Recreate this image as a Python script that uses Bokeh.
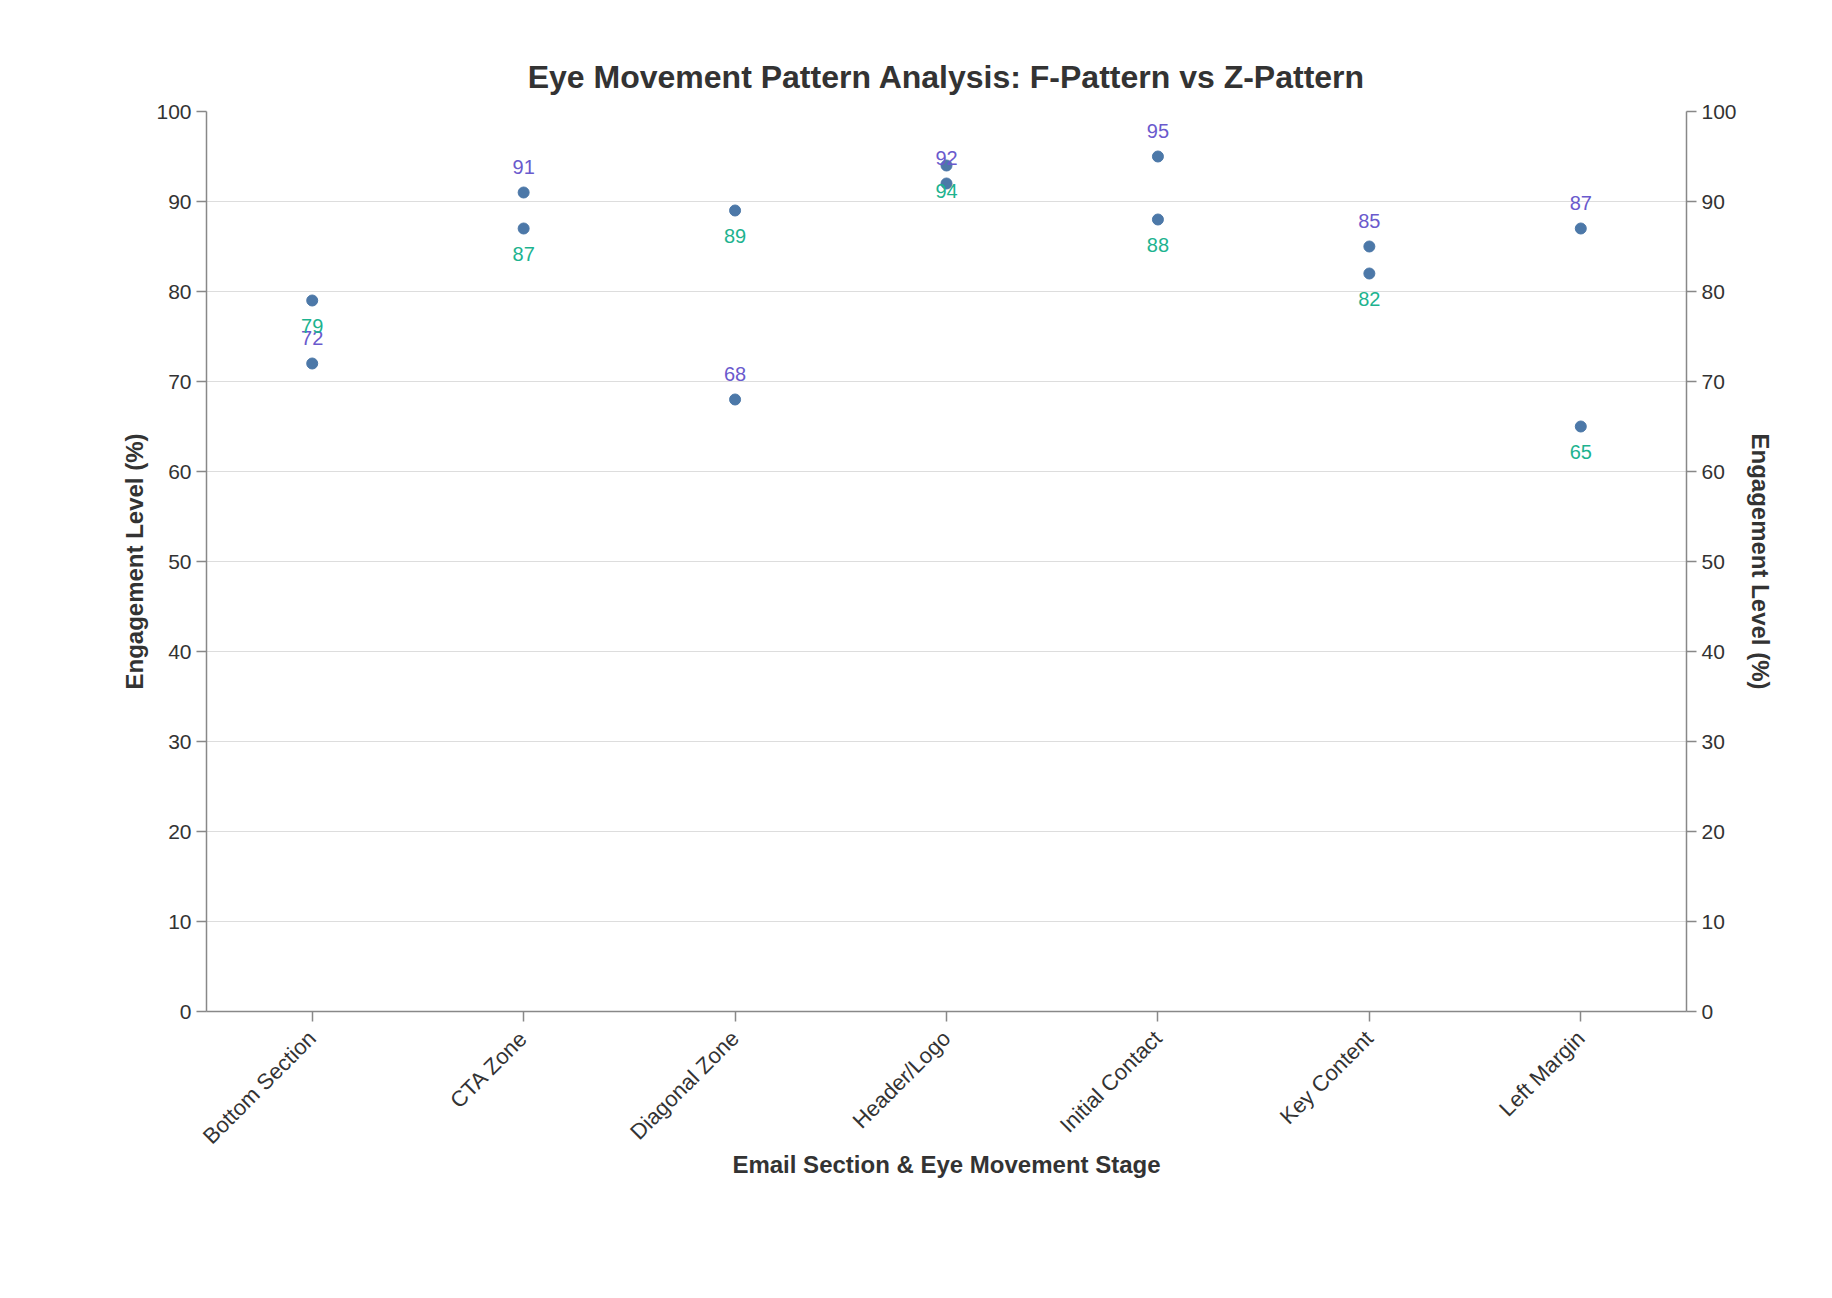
import math
from bokeh.plotting import figure
from bokeh.models import LinearAxis, FixedTicker, ColumnDataSource, Range1d, FactorRange
from bokeh.embed import file_html
from bokeh.resources import INLINE
from bokeh.core.properties import value

# ---- data ----
categories = ["Bottom Section", "CTA Zone", "Diagonal Zone", "Header/Logo",
              "Initial Contact", "Key Content", "Left Margin"]
f_pattern = [72, 91, 68, 92, 95, 85, 87]   # purple labels (above)
z_pattern = [79, 87, 89, 94, 88, 82, 65]   # green labels (below)
y_ticks = [0, 10, 20, 30, 40, 50, 60, 70, 80, 90, 100]

title_text = "Eye Movement Pattern Analysis: F-Pattern vs Z-Pattern"
x_title = "Email Section & Eye Movement Stage"
y_title = "Engagement Level (%)"

FONT = "Liberation Sans"
TXT = "#333333"
AXC = "#888888"
PURPLE = "#6a5acd"
GREEN = "#1db38f"
POINT = "#4c78a8"

src_f = ColumnDataSource(dict(x=categories, y=f_pattern, t=[str(v) for v in f_pattern]))
src_z = ColumnDataSource(dict(x=categories, y=z_pattern, t=[str(v) for v in z_pattern]))

p = figure(x_range=FactorRange(factors=categories, range_padding=0),
           y_range=Range1d(0, 100),
           frame_width=1480, frame_height=900,
           min_border_left=206, min_border_top=111,
           min_border_right=120, min_border_bottom=200,
           output_backend="svg", toolbar_location=None)

p.outline_line_color = None
p.background_fill_color = "white"
p.border_fill_color = "white"

# title
p.title.text = title_text
p.title.align = "center"
p.title.text_font = FONT
p.title.text_font_style = "bold"
p.title.text_font_size = "32px"
p.title.text_color = TXT
p.title.standoff = 33

# grid
p.xgrid.grid_line_color = None
p.ygrid.grid_line_color = "#dddddd"
p.ygrid.grid_line_width = 1
p.ygrid.ticker = FixedTicker(ticks=y_ticks)

# right axis
p.add_layout(LinearAxis(), "right")

for ax in p.yaxis:
    ax.ticker = FixedTicker(ticks=y_ticks)
    ax.axis_label = y_title

for ax in p.xaxis:
    ax.axis_label = x_title
    ax.major_label_orientation = math.pi / 4

for ax in list(p.xaxis) + list(p.yaxis):
    ax.axis_line_color = AXC
    ax.axis_line_width = 1.5
    ax.major_tick_line_color = AXC
    ax.major_tick_line_width = 1.5
    ax.major_tick_in = 0
    ax.major_tick_out = 10
    ax.minor_tick_line_color = None
    ax.major_label_text_font = FONT
    ax.major_label_text_font_size = "21px"
    ax.major_label_text_color = TXT
    ax.major_label_standoff = 5
    ax.axis_label_text_font = FONT
    ax.axis_label_text_font_style = "bold"
    ax.axis_label_text_font_size = "24px"
    ax.axis_label_text_color = TXT

p.yaxis[0].axis_label_standoff = 5
p.yaxis[1].axis_label_standoff = 7
for ax in p.xaxis:
    ax.major_label_standoff = 13
    ax.axis_label_standoff = -10
    ax.major_label_text_font_size = "22px"

# points
p.scatter("x", "y", source=src_f, size=11, color=POINT, line_color=POINT)
p.scatter("x", "y", source=src_z, size=11, color=POINT, line_color=POINT)

# labels
p.text("x", "y", text="t", source=src_f, y_offset=-26, text_align="center",
       text_baseline="middle", text_color=PURPLE, text_font=value(FONT),
       text_font_size="20px")
p.text("x", "y", text="t", source=src_z, y_offset=25, text_align="center",
       text_baseline="middle", text_color=GREEN, text_font=value(FONT),
       text_font_size="20px")

open("out.html", "w").write(file_html(p, INLINE))
